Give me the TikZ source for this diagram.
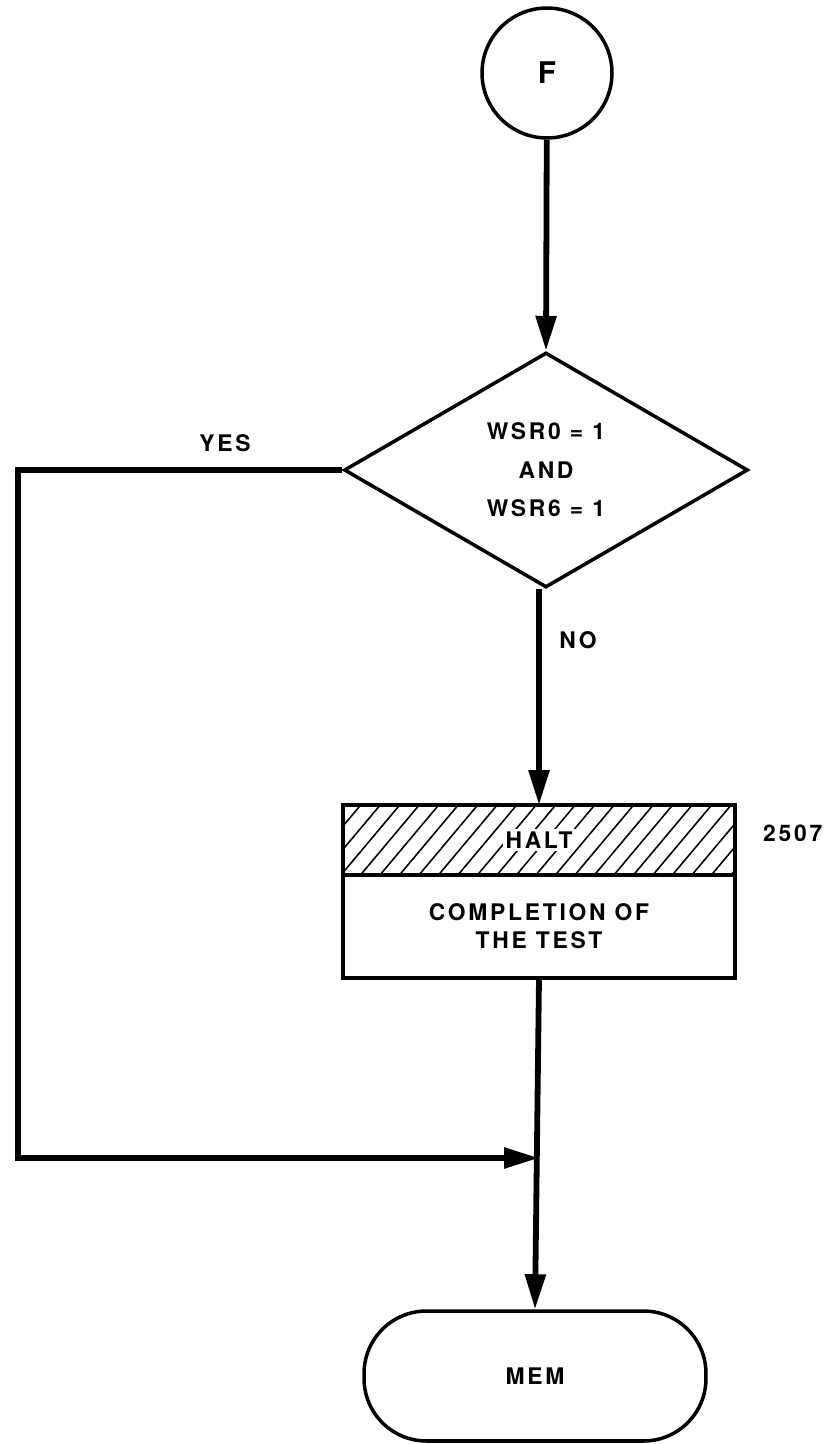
\documentclass[tikz,border=0pt]{standalone}
\usepackage{fontspec}
\newfontfamily\lettering[LetterSpace=12]{TeX Gyre Heros}
\usetikzlibrary{shapes.geometric}
\usetikzlibrary{arrows.meta}
\usetikzlibrary{patterns.meta}
\usetikzlibrary{positioning}

\begin{document}
\begin{tikzpicture}[x=0.02cm, y=-0.02cm,
    every node/.style={font=\lettering\bfseries\fontsize{13}{15}\selectfont, align=center},
    connector/.style={circle, draw, line width=2pt, minimum size=2.6cm, inner sep=0pt,
      font=\lettering\bfseries\fontsize{17}{19}\selectfont},
    decision/.style={diamond, draw, line width=2pt, minimum width=8.08cm, minimum height=4.7cm, inner sep=0pt},
    haltbox/.style={rectangle, draw, line width=2.2pt, outer sep=0pt, minimum width=7.84cm, minimum height=1.4cm,
      pattern={Lines[angle=50, distance=8.5pt, line width=0.9pt]}},
    process/.style={rectangle, draw, line width=2.2pt, outer sep=0pt, minimum width=7.84cm, minimum height=2.06cm},
    terminal/.style={rectangle, draw, rounded corners=1.25cm, line width=2pt, minimum width=6.84cm, minimum height=2.6cm},
    flow/.style={line width=3.3pt, line join=miter, -{Triangle[length=0.7cm, width=0.4cm]}}]
      % Page frame
      \useasboundingbox (0,0) rectangle (833,1444);
      % Entry connector and the test
      \node[connector] (f) at (547,73) {F};
      \node[decision] (test) at (546,470) {WSR0 = 1\\[7pt]AND\\[7pt]WSR6 = 1};
      \draw[flow] (f) -- (test.north);
      % Halt block, hatched on top
      \node[haltbox] (halt) at (539,840) {};
      \node[fill=white, inner sep=1.5pt] (haltlabel) at (halt) {HALT};
      \node[process, anchor=north] (done) at (halt.south) {COMPLETION OF\\[1pt]THE TEST};
      \node[anchor=west] (addr) at (757,833) {2507};
      % NO branch
      \draw[flow] (halt.north |- test.south) -- (halt.north);
      \node (no) at (578,640) {NO};
      % YES branch goes round the left side
      \coordinate (yescorner) at (18,470);
      \coordinate (join) at (539,1158);
      \draw[flow] (test.west) -- (yescorner) |- (join);
      \node (yes) at (225,443) {YES};
      % Exit
      \node[terminal] (mem) at (535,1376) {MEM};
      \draw[flow] (done.south) -- (mem.north);
    \end{tikzpicture}
\end{document}
